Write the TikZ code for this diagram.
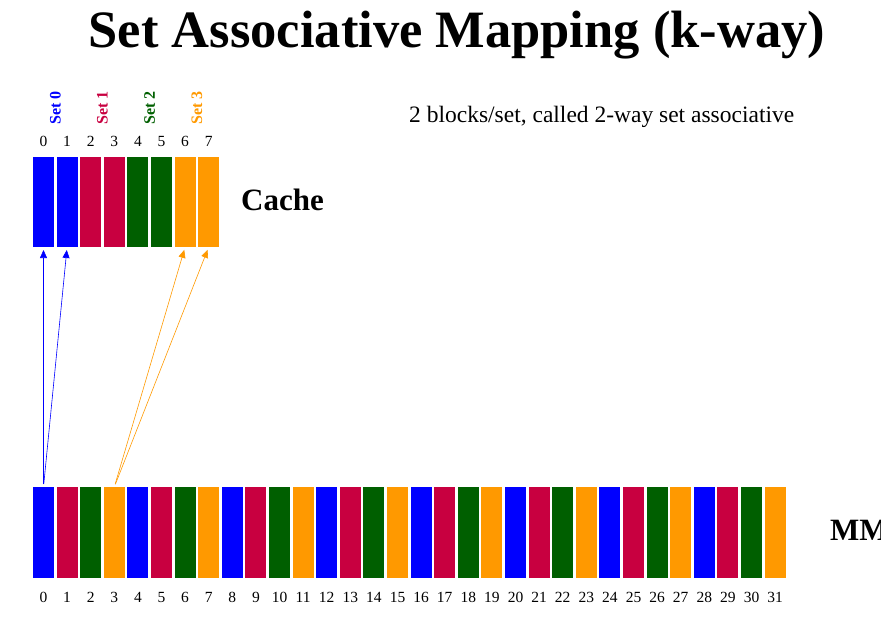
\documentclass[tikz,border=0pt]{standalone}
\usepackage{fontspec}
\setmainfont{Liberation Serif}
\usetikzlibrary{arrows.meta}
\definecolor{setblue}{HTML}{0000FF}
\definecolor{setred}{HTML}{C80040}
\definecolor{setgreen}{HTML}{005F00}
\definecolor{setorange}{HTML}{FF9900}

\begin{document}
\begin{tikzpicture}[x=1pt, y=-1pt,
    block/.style={minimum width=21pt, inner sep=0pt, outer sep=0pt},
    num/.style={font=\fontsize{15.5}{15.5}\selectfont, inner sep=0pt, anchor=base},
    setlabel/.style={rotate=90, font=\fontsize{16}{16}\selectfont\bfseries, inner sep=0pt},
    map/.style={-{Triangle[length=8pt, width=7pt]}, line width=0.6pt, shorten <=3pt, shorten >=3pt}]
\useasboundingbox (0,0) rectangle (881,642);

\node[font=\fontsize{52.5}{52.5}\selectfont\bfseries] (title) at (457,35) {Set Associative Mapping (k-way)};
\node[font=\fontsize{23.5}{23.5}\selectfont, anchor=west, inner sep=0pt] (note) at (409,117) {2 blocks/set, called 2-way set associative};

% cache blocks
\foreach \i/\col in {0/setblue,1/setblue,2/setred,3/setred,4/setgreen,5/setgreen,6/setorange,7/setorange} {
    \node[block, minimum height=90pt, fill=\col] (c\i) at (43.5+23.6*\i,202) {};
    \node[num] (cn\i) at (43.5+23.6*\i,146.5) {\i};
}
\foreach \k/\col in {0/setblue,1/setred,2/setgreen,3/setorange}
    \node[setlabel, text=\col] (s\k) at (55.3+47.2*\k,108) {Set \k};
\node[font=\fontsize{31}{31}\selectfont\bfseries, anchor=west, inner sep=0pt] (cache) at (241,200) {Cache};

% main memory blocks
\foreach \i in {0,...,31} {
    \pgfmathtruncatemacro{\r}{mod(\i,4)}
    \ifcase\r \def\col{setblue}\or \def\col{setred}\or \def\col{setgreen}\else \def\col{setorange}\fi
    \node[block, minimum height=91pt, fill=\col] (m\i) at (43.5+23.6*\i,532.5) {};
    \node[num] (mn\i) at (43.5+23.6*\i,602.5) {\i};
}
\node[font=\fontsize{31}{31}\selectfont\bfseries, anchor=west, inner sep=0pt] (mm) at (830,530) {MM};

% mapping
\draw[map, setblue] (m0.north) -- (c0.south);
\draw[map, setblue] (m0.north) -- (c1.south);
\draw[map, setorange] (m3.north) -- (c6.south);
\draw[map, setorange] (m3.north) -- (c7.south);
\end{tikzpicture}
\end{document}
